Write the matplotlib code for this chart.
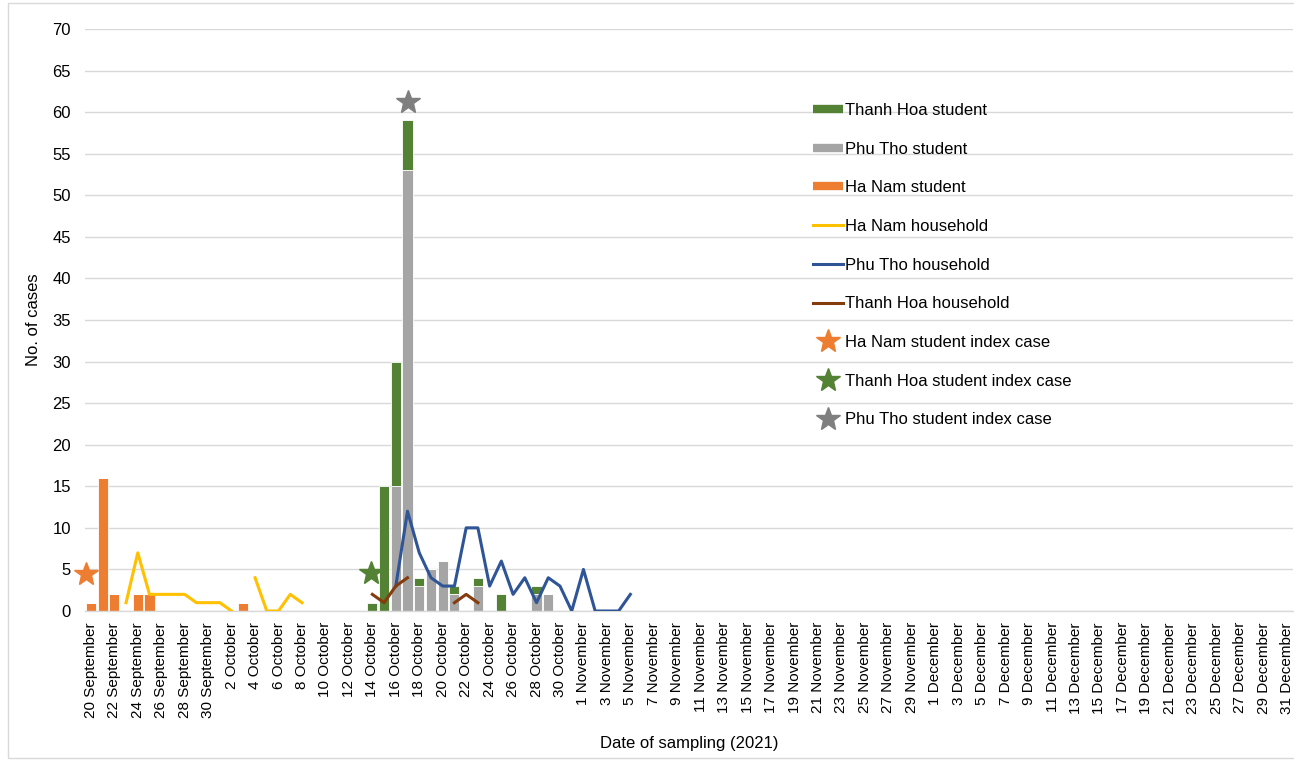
import numpy as np
import pandas as pd
import matplotlib
matplotlib.use("Agg")
import matplotlib.pyplot as plt
from matplotlib.lines import Line2D
from matplotlib.patches import Rectangle

plt.rcParams['font.family'] = ['Liberation Sans', 'DejaVu Sans']

# daily categories, 20 September to 31 December 2021
dates = pd.date_range('2021-09-20', '2021-12-31', freq='D')

# students (stacked bars), dates -> counts
ha_nam_student_dates = ['2021-09-20', '2021-09-21', '2021-09-22', '2021-09-24', '2021-09-25', '2021-10-03']
ha_nam_student = [1, 16, 2, 2, 2, 1]

phu_tho_student_dates = ['2021-10-16', '2021-10-17', '2021-10-18', '2021-10-19', '2021-10-20',
                         '2021-10-21', '2021-10-23', '2021-10-28', '2021-10-29']
phu_tho_student = [15, 53, 3, 5, 6, 2, 3, 2, 2]

thanh_hoa_student_dates = ['2021-10-14', '2021-10-15', '2021-10-16', '2021-10-17', '2021-10-18',
                           '2021-10-21', '2021-10-23', '2021-10-25', '2021-10-28']
thanh_hoa_student = [1, 15, 15, 6, 1, 1, 1, 2, 1]

# households (lines), start date + consecutive daily values (nan = gap)
ha_nam_household_start = '2021-09-23'
ha_nam_household = [1, 7, 2, 2, 2, 2, 1, 1, 1, 0, np.nan, 4, 0, 0, 2, 1]

phu_tho_household_start = '2021-10-16'
phu_tho_household = [3, 12, 7, 4, 3, 3, 10, 10, 3, 6, 2, 4, 1, 4, 3, 0, 5, 0, 0, 0, 2]

thanh_hoa_household_start = '2021-10-14'
thanh_hoa_household = [2, 1, 3, 4, np.nan, np.nan, np.nan, 1, 2, 1]

# index cases (stars): position in days after 20 September, value
index_case_names = ['Ha Nam student index case', 'Thanh Hoa student index case', 'Phu Tho student index case']
index_case_x = [-0.45, 23.85, 27.05]
index_case_y = [4.5, 4.6, 61.2]

c_green = '#548235'
c_gray = '#A5A5A5'
c_orange = '#ED7D31'
c_yellow = '#FFC000'
c_blue = '#2F5597'
c_brown = '#843C0C'
star_colors = [c_orange, c_green, '#7F7F7F']


def to_series(day_list, vals):
    s = np.zeros(len(dates))
    for d, v in zip(day_list, vals):
        s[dates.get_loc(pd.Timestamp(d))] = v
    return s


def line_x(start, vals):
    i0 = dates.get_loc(pd.Timestamp(start))
    return np.arange(i0, i0 + len(vals))


hn_s = to_series(ha_nam_student_dates, ha_nam_student)
pt_s = to_series(phu_tho_student_dates, phu_tho_student)
th_s = to_series(thanh_hoa_student_dates, thanh_hoa_student)

x = np.arange(len(dates))
fig = plt.figure(figsize=(12.94, 7.60), dpi=100)
ax = fig.add_axes([85 / 1294, 149 / 760, 1208 / 1294, 582 / 760])

fs = 12
bw = 0.86
ax.bar(x, hn_s, width=bw, color=c_orange, edgecolor='white', linewidth=0.6, zorder=2)
ax.bar(x, pt_s, width=bw, bottom=hn_s, color=c_gray, edgecolor='white', linewidth=0.6, zorder=2)
ax.bar(x, th_s, width=bw, bottom=hn_s + pt_s, color=c_green, edgecolor='white', linewidth=0.6, zorder=2)

ax.plot(line_x(ha_nam_household_start, ha_nam_household), ha_nam_household, color=c_yellow, lw=2.2, zorder=3)
ax.plot(line_x(phu_tho_household_start, phu_tho_household), phu_tho_household, color=c_blue, lw=2.2, zorder=3)
ax.plot(line_x(thanh_hoa_household_start, thanh_hoa_household), thanh_hoa_household, color=c_brown, lw=2.2, zorder=3)

for xs, ys, col in zip(index_case_x, index_case_y, star_colors):
    ax.plot(xs, ys, marker='*', ms=18, color=col, mec=col, ls='none', zorder=4, clip_on=False)

ax.set_xlim(-0.5, len(dates) - 0.5)
ax.set_ylim(0, 70)
ax.set_yticks(np.arange(0, 71, 5))
ax.grid(axis='y', color='#D9D9D9', lw=1, zorder=0)
ax.set_axisbelow(True)
for sp in ['top', 'right', 'left']:
    ax.spines[sp].set_visible(False)
ax.spines['bottom'].set_color('#D9D9D9')
ax.spines['bottom'].set_linewidth(1)

ax.set_xticks(x[::2])
ax.set_xticklabels([f"{d.day} {d.strftime('%B')}" for d in dates[::2]], rotation=90, fontsize=11)
ax.tick_params(axis='x', length=0, pad=8)
ax.tick_params(axis='y', length=0, pad=10, labelsize=fs)

ax.set_ylabel('No. of cases', fontsize=fs, labelpad=8)
ax.set_xlabel('Date of sampling (2021)', fontsize=fs, labelpad=13)

handles = [
    Line2D([], [], color=c_green, lw=6, solid_capstyle='butt'),
    Line2D([], [], color=c_gray, lw=6, solid_capstyle='butt'),
    Line2D([], [], color=c_orange, lw=6, solid_capstyle='butt'),
    Line2D([], [], color=c_yellow, lw=2.2),
    Line2D([], [], color=c_blue, lw=2.2),
    Line2D([], [], color=c_brown, lw=2.2),
]
labels = ['Thanh Hoa student', 'Phu Tho student', 'Ha Nam student',
          'Ha Nam household', 'Phu Tho household', 'Thanh Hoa household']
for col, name in zip(star_colors, index_case_names):
    handles.append(Line2D([], [], marker='*', ms=18, color=col, ls='none'))
    labels.append(name)

fig.legend(handles, labels, loc='upper left', bbox_to_anchor=(813 / 1294, 1 - 103 / 760),
           frameon=False, fontsize=fs, handlelength=1.8, handletextpad=0.12,
           labelspacing=1.42, borderpad=0, borderaxespad=0)

# chart area border
fig.patches.append(Rectangle((8 / 1294, 2 / 760), 1.0, 755 / 760, transform=fig.transFigure,
                             fill=False, edgecolor='#D9D9D9', lw=1))

fig.savefig('out.png', dpi=100)
